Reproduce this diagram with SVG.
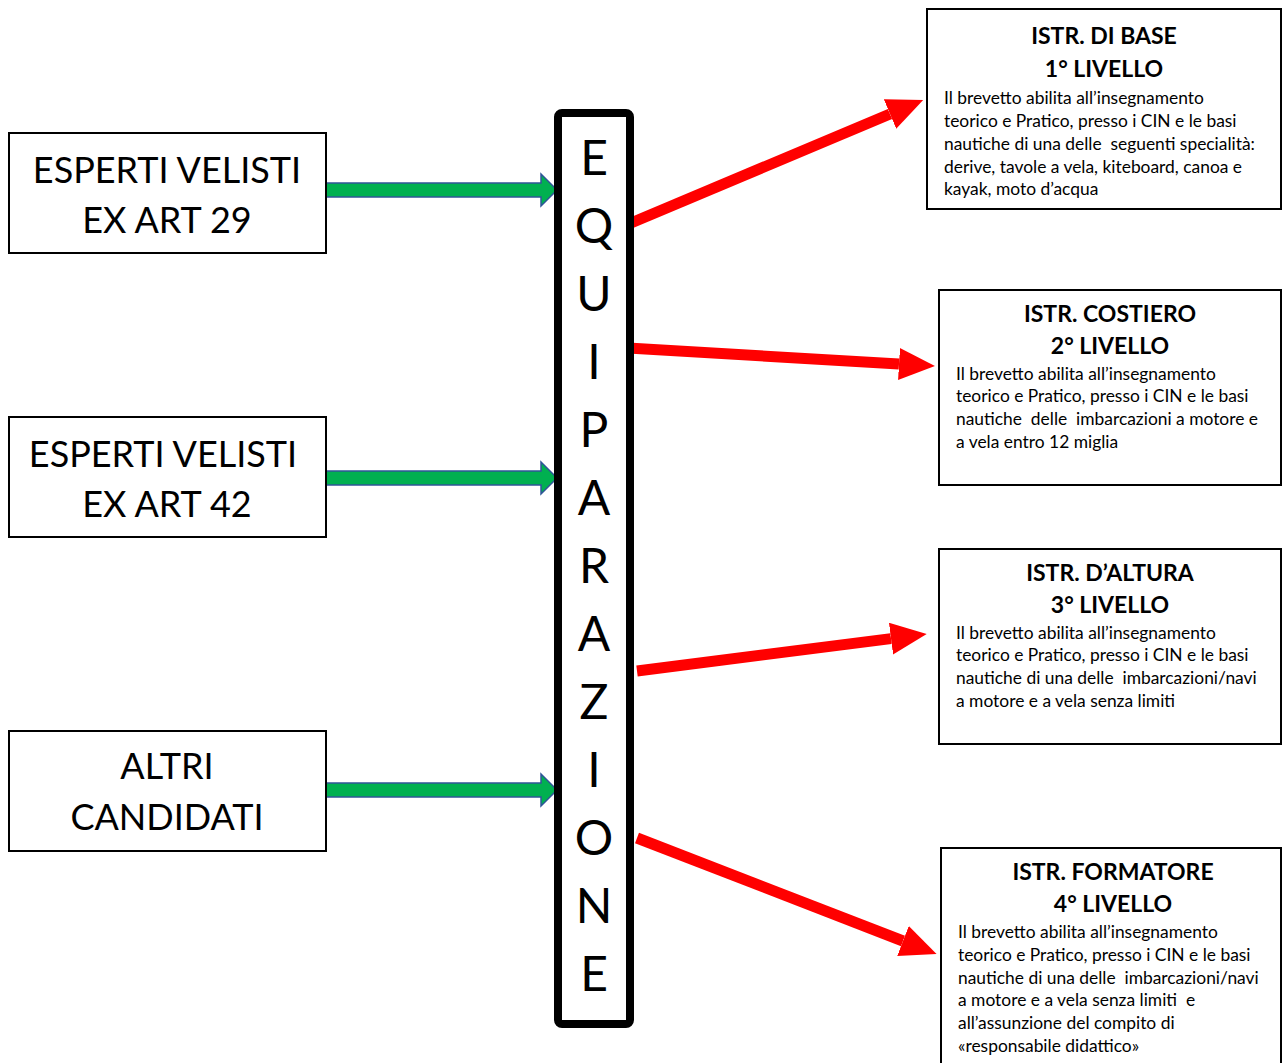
<svg xmlns="http://www.w3.org/2000/svg" width="1282" height="1063" viewBox="0 0 1282 1063">
<defs>
<style>
.box{fill:#fff;stroke:#000;stroke-width:2}
.big{font-family:Lato,"Liberation Sans",sans-serif;font-size:36px;fill:#000;text-anchor:middle}
.letter{font-family:Lato,"Liberation Sans",sans-serif;font-size:48px;fill:#000;text-anchor:middle}
.title{font-family:Lato,"Liberation Sans",sans-serif;font-size:23px;font-weight:bold;fill:#000;text-anchor:middle}
.body{font-family:Lato,"Liberation Sans",sans-serif;font-size:17.4px;fill:#000}
.green{fill:#00B050;stroke:#2F5597;stroke-width:1.5}
.red{stroke:#FF0000;stroke-width:11;fill:none}
</style>
<marker id="rh" markerUnits="userSpaceOnUse" markerWidth="40" markerHeight="34" refX="0" refY="16" orient="auto">
<path d="M0,0 L36,16 L0,32 z" fill="#FF0000"/>
</marker>
</defs>
<rect width="1282" height="1063" fill="#fff"/>

<g id="connectors">
<path class="green" d="M326,183 L541,183 L541,174 L557,190 L541,206 L541,197 L326,197 z"/>
<path class="green" d="M326,471 L541,471 L541,462 L557,478 L541,494 L541,485 L326,485 z"/>
<path class="green" d="M326,783 L541,783 L541,774 L557,790 L541,806 L541,797 L326,797 z"/>
<line class="red" x1="631" y1="223" x2="890" y2="114" marker-end="url(#rh)"/>
<line class="red" x1="628" y1="348" x2="899" y2="364" marker-end="url(#rh)"/>
<line class="red" x1="637" y1="671" x2="891" y2="638.6" marker-end="url(#rh)"/>
<line class="red" x1="637" y1="838" x2="903" y2="941" marker-end="url(#rh)"/>
</g>

<g id="node-art29">
<rect class="box" x="9" y="133" width="317" height="120"/>
<text class="big" x="167" y="183">ESPERTI VELISTI</text>
<text class="big" x="167" y="233">EX ART 29</text>
</g>
<g id="node-art42">
<rect class="box" x="9" y="417" width="317" height="120"/>
<text class="big" x="163" y="467">ESPERTI VELISTI</text>
<text class="big" x="167" y="517">EX ART 42</text>
</g>
<g id="node-altri">
<rect class="box" x="9" y="731" width="317" height="120"/>
<text class="big" x="167" y="779">ALTRI</text>
<text class="big" x="167" y="830">CANDIDATI</text>
</g>

<g id="node-equiparazione">
<rect x="558" y="113" width="72" height="911" rx="4" fill="#fff" stroke="#000" stroke-width="8"/>
<text class="letter" x="594" y="175">E</text>
<text class="letter" x="594" y="243">Q</text>
<text class="letter" x="594" y="311">U</text>
<text class="letter" x="594" y="379">I</text>
<text class="letter" x="594" y="447">P</text>
<text class="letter" x="594" y="515">A</text>
<text class="letter" x="594" y="583">R</text>
<text class="letter" x="594" y="651">A</text>
<text class="letter" x="594" y="719">Z</text>
<text class="letter" x="594" y="787">I</text>
<text class="letter" x="594" y="855">O</text>
<text class="letter" x="594" y="923">N</text>
<text class="letter" x="594" y="991">E</text>
</g>

<g id="node-livello1">
<rect class="box" x="927" y="9" width="354" height="200"/>
<text class="title" x="1104" y="44">ISTR. DI BASE</text>
<text class="title" x="1104" y="77">1° LIVELLO</text>
<text class="body" x="944" y="104">Il brevetto abilita all’insegnamento</text>
<text class="body" x="944" y="127">teorico e Pratico, presso i CIN e le basi</text>
<text class="body" x="944" y="150" xml:space="preserve">nautiche di una delle  seguenti specialità:</text>
<text class="body" x="944" y="173">derive, tavole a vela, kiteboard, canoa e</text>
<text class="body" x="944" y="195">kayak, moto d’acqua</text>
</g>

<g id="node-livello2">
<rect class="box" x="939" y="290" width="342" height="195"/>
<text class="title" x="1110" y="322">ISTR. COSTIERO</text>
<text class="title" x="1110" y="354">2° LIVELLO</text>
<text class="body" x="956" y="380">Il brevetto abilita all’insegnamento</text>
<text class="body" x="956" y="402">teorico e Pratico, presso i CIN e le basi</text>
<text class="body" x="956" y="425" xml:space="preserve">nautiche  delle  imbarcazioni a motore e</text>
<text class="body" x="956" y="448">a vela entro 12 miglia</text>
</g>

<g id="node-livello3">
<rect class="box" x="939" y="549" width="342" height="195"/>
<text class="title" x="1110" y="581">ISTR. D’ALTURA</text>
<text class="title" x="1110" y="613">3° LIVELLO</text>
<text class="body" x="956" y="639">Il brevetto abilita all’insegnamento</text>
<text class="body" x="956" y="661">teorico e Pratico, presso i CIN e le basi</text>
<text class="body" x="956" y="684" xml:space="preserve">nautiche di una delle  imbarcazioni/navi</text>
<text class="body" x="956" y="707">a motore e a vela senza limiti</text>
</g>

<g id="node-livello4">
<rect class="box" x="941" y="848" width="340" height="225"/>
<text class="title" x="1113" y="880">ISTR. FORMATORE</text>
<text class="title" x="1113" y="912">4° LIVELLO</text>
<text class="body" x="958" y="938">Il brevetto abilita all’insegnamento</text>
<text class="body" x="958" y="961">teorico e Pratico, presso i CIN e le basi</text>
<text class="body" x="958" y="984" xml:space="preserve">nautiche di una delle  imbarcazioni/navi</text>
<text class="body" x="958" y="1006" xml:space="preserve">a motore e a vela senza limiti  e</text>
<text class="body" x="958" y="1029">all’assunzione del compito di</text>
<text class="body" x="958" y="1052">«responsabile didattico»</text>
</g>
</svg>
